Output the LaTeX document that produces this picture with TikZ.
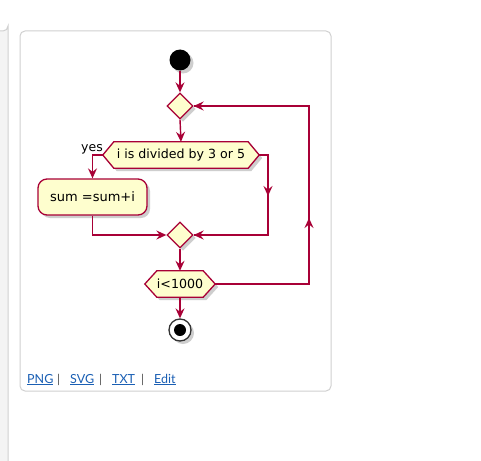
\documentclass[tikz,border=0pt]{standalone}
\usepackage{fontspec}
\setmainfont{DejaVu Sans}
\newfontfamily\linkfont{Lato}
\usetikzlibrary{arrows.meta,shapes.geometric,shadows,calc}
\definecolor{umlred}{HTML}{A80036}
\definecolor{umlfill}{HTML}{FEFECE}
\definecolor{cardline}{HTML}{D0D0D0}
\definecolor{panelfill}{HTML}{F4F4F4}
\definecolor{linkblue}{HTML}{1A5FB4}
\tikzset{
  umlshadow/.style={drop shadow={shadow xshift=3pt,shadow yshift=-3pt,opacity=0.35,fill=black!55}},
  conn/.style={draw=umlred,line width=1.4pt},
  arr/.style={conn,-{Stealth[length=10pt,width=9pt,inset=3.5pt]}},
  dia/.style={diamond,draw=umlred,fill=umlfill,line width=1.3pt,inner sep=0pt,minimum width=26pt,minimum height=26pt,umlshadow},
  hexshape/.style={draw=umlred,fill=umlfill,line width=1.3pt,umlshadow},
  hexbox/.style={inner sep=0pt,minimum height=26pt,font=\fontsize{12.6}{14}\selectfont},
  actbox/.style={rectangle,rounded corners=9pt,draw=umlred,fill=umlfill,line width=1.3pt,minimum width=109pt,minimum height=36pt,font=\fontsize{13}{15}\selectfont,umlshadow},
  lbl/.style={font=\fontsize{12.5}{14}\selectfont,inner sep=0pt},
  link/.style={font=\linkfont\fontsize{12.5}{15}\selectfont,text=linkblue,inner sep=0pt,anchor=base west},
  sep/.style={font=\linkfont\fontsize{12}{15}\selectfont,text=black!70,inner sep=0pt,anchor=base west}
}
\begin{document}
\begin{tikzpicture}[x=1pt,y=-1pt]
\useasboundingbox (0,0) rectangle (481,460);
% left panel and card
\fill[panelfill] (-2,31) -- (3,31) arc[start angle=90,end angle=0,radius=5] -- (8,462) -- (-2,462) -- cycle;
\draw[cardline,line width=1pt] (-2,31) -- (3,31) arc[start angle=90,end angle=0,radius=5] -- (8,462);
\draw[cardline,line width=1pt,fill=white,rounded corners=5pt] (20,31) rectangle (331,391);
% start
\node[circle,fill=black,minimum size=21pt,inner sep=0pt,umlshadow] (start) at (180,60) {};
% diamond 1
\node[dia] (d1) at (180,106) {};
% hexagon 1
\node[hexbox,minimum width=134pt] (h1) at (181,155) {};
\coordinate (h1l) at ($(h1.west)+(-11,0)$);
\coordinate (h1r) at ($(h1.east)+(11,0)$);
\path[hexshape] (h1.north west) -- (h1.north east) -- (h1r) -- (h1.south east) -- (h1.south west) -- (h1l) -- cycle;
\node[hexbox,minimum width=134pt] (h1t) at (h1) {i is divided by 3 or 5};
% activity
\node[actbox] (act) at (92.5,197) {sum =sum+i};
% diamond 2
\node[dia] (d2) at (180,235) {};
% hexagon 2
\node[hexbox,minimum width=46pt] (h2) at (180,284) {};
\coordinate (h2l) at ($(h2.west)+(-12,0)$);
\coordinate (h2r) at ($(h2.east)+(12,0)$);
\path[hexshape] (h2.north west) -- (h2.north east) -- (h2r) -- (h2.south east) -- (h2.south west) -- (h2l) -- cycle;
\node[hexbox,minimum width=46pt] (h2t) at (h2) {i<1000};
% end
\node[circle,draw=black!80,line width=1.3pt,fill=white,minimum size=22pt,inner sep=0pt,umlshadow] (stop) at (180,330) {};
\node[circle,fill=black,minimum size=12pt,inner sep=0pt] (stopin) at (stop) {};
% yes label
\node[lbl,anchor=base east] (yes) at (103,151) {yes};
% connectors
\draw[arr] (start.south) -- (d1.north);
\draw[arr] (d1.south) -- (h1.north);
\coordinate (yl) at (act.north |- h1l);
\draw[arr] (h1l) -- (yl) -- (act.north);
\coordinate (al) at (act.south |- d2.west);
\draw[arr] (act.south) -- (al) -- (d2.west);
\coordinate (rr1) at (268,155);
\coordinate (rr2) at (268,235);
\coordinate (rrm) at (268,196);
\draw[conn] (h1r) -- (rr1) -- (rr2) -- (d2.east);
\draw[arr] (rr1) -- (rrm);
\draw[arr] (rr2) -- (d2.east);
\draw[arr] (d2.south) -- (h2.north);
\coordinate (lp1) at (309,284);
\coordinate (lp2) at (309,106);
\coordinate (lpm) at (309,218);
\draw[conn] (h2r) -- (lp1) -- (lp2) -- (d1.east);
\draw[arr] (lp1) -- (lpm);
\draw[arr] (lp2) -- (d1.east);
\draw[arr] (h2.south) -- (stop.north);
% links
\node[link] (png) at (27,383) {\underline{PNG}};
\node[sep] (s1) at (57,383) {|};
\node[link] (svg) at (70,383) {\underline{SVG}};
\node[sep] (s2) at (99,383) {|};
\node[link] (txt) at (112,383) {\underline{TXT}};
\node[sep] (s3) at (141,383) {|};
\node[link] (edit) at (154,383) {\underline{Edit}};
\end{tikzpicture}
\end{document}
